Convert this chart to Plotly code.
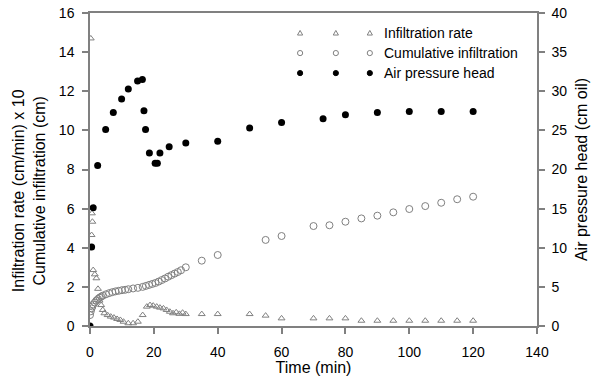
import plotly.graph_objects as go

# Infiltration rate (cm/min) x 10
rate_t = [0.25, 0.5, 0.6, 0.75, 1.0, 1.5, 2.0, 2.5, 3.0, 3.5, 4.0, 4.5, 5.5, 6.5, 7.5,
          8.5, 9.5, 10.5, 12.0, 13.5, 15.0, 16.5, 17.8, 18.8, 19.8, 20.9, 21.9, 23.0,
          24.0, 25.0, 26.0, 27.0, 28.0, 29.0, 30.0, 35, 40, 50, 55, 60, 70, 75, 80,
          85, 90, 95, 100, 105, 110, 115, 120]
rate_v = [14.7, 4.65, 5.76, 5.33, 2.86, 2.64, 2.44, 1.9, 1.3, 1.07, 0.82, 0.65, 0.56, 0.48, 0.43,
          0.36, 0.31, 0.22, 0.14, 0.14, 0.22, 0.56, 0.99, 1.07, 1.04, 0.99, 0.94, 0.9,
          0.82, 0.73, 0.65, 0.7, 0.62, 0.68, 0.61, 0.61, 0.61, 0.61, 0.53, 0.39, 0.39, 0.39, 0.39,
          0.27, 0.27, 0.27, 0.27, 0.27, 0.27, 0.27, 0.27]

# Cumulative infiltration (cm)
cum_t = [0, 0.25, 0.5, 0.75, 1, 1.5, 2, 2.5, 3, 3.5, 4, 5, 6, 7, 8, 9, 10, 11, 12,
         13.5, 15, 16.5, 17.5, 18.5, 19.5, 20.5, 21.5, 22.5, 23.5, 24.5, 25.5, 26.5,
         27.5, 28.5, 30, 35, 40, 55, 60, 70, 75, 80, 85, 90, 95, 100, 105, 110, 115, 120]
cum_v = [0.56, 0.75, 0.9, 1.0, 1.1, 1.2, 1.3, 1.38, 1.45, 1.5, 1.55, 1.62, 1.68, 1.73, 1.77,
         1.8, 1.83, 1.85, 1.88, 1.92, 1.95, 2.0, 2.05, 2.1, 2.15, 2.2, 2.27, 2.35, 2.43,
         2.52, 2.6, 2.68, 2.76, 2.85, 3.0, 3.34, 3.63, 4.4, 4.6, 5.11, 5.15, 5.33, 5.5,
         5.64, 5.81, 5.98, 6.13, 6.3, 6.48, 6.61]

# Air pressure head (cm oil)
air_t = [0, 0.5, 1.0, 2.4, 4.9, 7.3, 9.9, 12.0, 14.9, 16.4, 16.9, 17.4, 18.6, 20.4,
         21.1, 21.9, 24.8, 30, 40, 50, 60, 73, 80, 90, 100, 110, 120]
air_v = [0, 10.1, 15.1, 20.5, 25.1, 27.3, 29.0, 30.3, 31.3, 31.5, 27.5, 25.1, 22.1, 20.8,
         20.8, 22.1, 22.9, 23.4, 23.6, 25.3, 26.0, 26.5, 27.0, 27.3, 27.4, 27.4, 27.4]

legend_labels = ["Infiltration rate", "Cumulative infiltration", "Air pressure head"]

FONT = "Liberation Sans, Arial, sans-serif"
GRAY = "#808080"

fig = go.Figure()
fig.add_trace(go.Scatter(x=rate_t, y=rate_v, mode="markers", name=legend_labels[0],
                         marker=dict(symbol="triangle-up-open", size=6, color=GRAY,
                                     line=dict(width=1, color=GRAY))))
fig.add_trace(go.Scatter(x=cum_t, y=cum_v, mode="markers", name=legend_labels[1],
                         marker=dict(symbol="circle-open", size=7, color=GRAY,
                                     line=dict(width=1, color=GRAY))))
fig.add_trace(go.Scatter(x=air_t, y=air_v, mode="markers", name=legend_labels[2], yaxis="y2",
                         marker=dict(symbol="circle", size=7, color="black")))

axis_common = dict(showline=True, linecolor=GRAY, linewidth=1.5, ticks="outside",
                   tickcolor=GRAY, ticklen=6, tickwidth=1.5, showgrid=False, zeroline=False,
                   automargin=False,
                   tickfont=dict(family=FONT, size=14, color="black"))

fig.update_layout(
    width=602, height=376,
    margin=dict(l=90, r=65, t=13, b=50),
    paper_bgcolor="white", plot_bgcolor="white",
    showlegend=False,
    xaxis=dict(range=[0, 140], dtick=20, mirror=True, ticklabelstandoff=6,
               title=dict(text="Time (min)", font=dict(family=FONT, size=16, color="black"),
                          standoff=3),
               **axis_common),
    yaxis=dict(range=[0, 16], dtick=2, ticklabelstandoff=5, **axis_common),
    yaxis2=dict(range=[0, 40], dtick=5, overlaying="y", side="right", ticklabelstandoff=4,
                title=dict(text="Air pressure head (cm oil)",
                           font=dict(family=FONT, size=16, color="black"), standoff=9),
                **axis_common),
)

# Left axis title (two lines), placed as in the original
fig.add_annotation(x=-0.1365, y=0.434, xref="paper", yref="paper",
                   text="Infiltration rate (cm/min) x 10<br>Cumulative infiltration (cm)",
                   textangle=-90, showarrow=False, xanchor="center", yanchor="middle",
                   font=dict(family=FONT, size=16, color="black"))

# Manual legend (three symbol columns, as in the original)
rows_y = [0.936, 0.872, 0.808]
cols_x = [0.470, 0.550, 0.626]
for i, (yy, lab) in enumerate(zip(rows_y, legend_labels)):
    for xx in cols_x:
        common = dict(xref="paper", yref="paper", xsizemode="pixel", ysizemode="pixel",
                      xanchor=xx, yanchor=yy)
        if i == 0:
            fig.add_shape(type="path", path="M -2.6,-2 L 2.6,-2 L 0,2.6 Z",
                          line=dict(color=GRAY, width=1), fillcolor="rgba(0,0,0,0)", **common)
        elif i == 1:
            fig.add_shape(type="circle", x0=-2.6, x1=2.6, y0=-2.6, y1=2.6,
                          line=dict(color=GRAY, width=1), fillcolor="rgba(0,0,0,0)", **common)
        else:
            fig.add_shape(type="circle", x0=-2.6, x1=2.6, y0=-2.6, y1=2.6,
                          line=dict(color="black", width=1), fillcolor="black", **common)
    fig.add_annotation(x=0.653, y=yy, xref="paper", yref="paper", text=lab, showarrow=False,
                       font=dict(family=FONT, size=14, color="black"),
                       xanchor="left", yanchor="middle")

fig.write_html("out.html")
